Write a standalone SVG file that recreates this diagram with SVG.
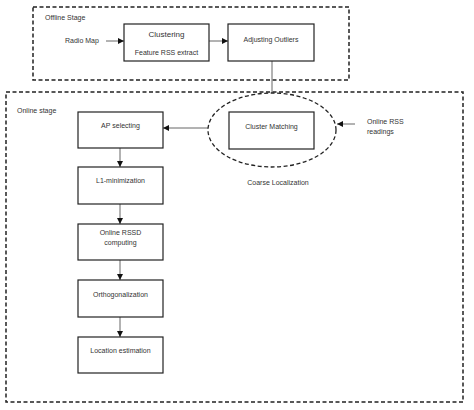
<svg xmlns="http://www.w3.org/2000/svg" width="474" height="410" viewBox="0 0 474 410">
<style>
.stage{fill:none;stroke:#222;stroke-width:1.5;stroke-dasharray:4 2.5}
.box{fill:#fff;stroke:#222;stroke-width:1.2}
.t{font-family:"Liberation Sans",Arial,sans-serif;font-size:7px;fill:#333}
.c{text-anchor:middle}
.conn{fill:none;stroke:#666;stroke-width:1}
</style>
<defs>
<marker id="ah" viewBox="0 0 10 10" refX="10" refY="5" markerWidth="6" markerHeight="6" orient="auto" markerUnits="userSpaceOnUse">
<path d="M0,0 L10,5 L0,10 Z" fill="#111"/>
</marker>
</defs>
<rect width="474" height="410" fill="#fff"/>
<g id="offline-stage">
<rect class="stage" x="33" y="7" width="316" height="73"/>
<text class="t" x="45" y="20">Offline Stage</text>
</g>
<g id="online-stage">
<rect class="stage" x="6" y="92" width="457" height="310"/>
<text class="t" x="17" y="113">Online stage</text>
</g>
<g id="connectors">
<line class="conn" x1="106" y1="41" x2="124" y2="41" marker-end="url(#ah)"/>
<line class="conn" x1="209" y1="41" x2="228" y2="41" marker-end="url(#ah)"/>
<line class="conn" x1="272" y1="61" x2="272" y2="93"/>
<line class="conn" x1="355" y1="124" x2="337" y2="124" marker-end="url(#ah)"/>
<line class="conn" x1="208" y1="128" x2="163" y2="128" marker-end="url(#ah)"/>
<line class="conn" x1="120" y1="148" x2="120" y2="167" marker-end="url(#ah)"/>
<line class="conn" x1="120" y1="204" x2="120" y2="224" marker-end="url(#ah)"/>
<line class="conn" x1="120" y1="260" x2="120" y2="280" marker-end="url(#ah)"/>
<line class="conn" x1="120" y1="317" x2="120" y2="337" marker-end="url(#ah)"/>
</g>
<g id="radio-map">
<text class="t" x="65" y="43">Radio Map</text>
</g>
<g id="clustering">
<rect class="box" x="124" y="24" width="85" height="37"/>
<text class="t c" x="166.5" y="37" style="font-size:8px">Clustering</text>
<text class="t c" x="166.5" y="55">Feature RSS extract</text>
</g>
<g id="adjusting-outliers">
<rect class="box" x="228" y="24" width="86" height="37"/>
<text class="t c" x="271" y="42">Adjusting Outliers</text>
</g>
<g id="coarse-localization">
<ellipse cx="272" cy="130" rx="64" ry="37" fill="none" stroke="#222" stroke-width="1.3" stroke-dasharray="4 2.5"/>
<text class="t c" x="278" y="185">Coarse Localization</text>
</g>
<g id="cluster-matching">
<rect class="box" x="229" y="112" width="85" height="37"/>
<text class="t c" x="271.5" y="129">Cluster Matching</text>
</g>
<g id="online-rss">
<text class="t" x="367" y="124">Online RSS</text>
<text class="t" x="367" y="134">readings</text>
</g>
<g id="ap-selecting">
<rect class="box" x="78" y="112" width="85" height="36"/>
<text class="t c" x="120.5" y="128">AP selecting</text>
</g>
<g id="l1-minimization">
<rect class="box" x="78" y="167" width="85" height="37"/>
<text class="t c" x="120.5" y="183">L1-minimization</text>
</g>
<g id="online-rssd">
<rect class="box" x="78" y="224" width="85" height="36"/>
<text class="t c" x="120.5" y="235">Online RSSD</text>
<text class="t c" x="120.5" y="245">computing</text>
</g>
<g id="orthogonalization">
<rect class="box" x="78" y="280" width="85" height="37"/>
<text class="t c" x="120.5" y="297">Orthogonalization</text>
</g>
<g id="location-estimation">
<rect class="box" x="78" y="337" width="85" height="36"/>
<text class="t c" x="120.5" y="353">Location estimation</text>
</g>
</svg>
